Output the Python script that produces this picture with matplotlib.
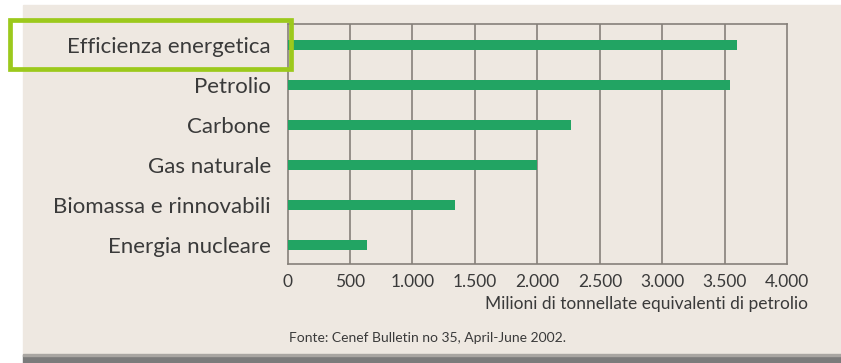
#plot energy sources horizontal bar chart (Mtep), beige panel with highlighted first label

import numpy as np
import matplotlib
matplotlib.use("Agg")
import matplotlib.pyplot as plt
from matplotlib.patches import Rectangle

#=====================Data===============
categories = ["Efficienza energetica", "Petrolio", "Carbone", "Gas naturale",
              "Biomassa e rinnovabili", "Energia nucleare"]
values = [3600, 3540, 2270, 2000, 1340, 640]
xticks = [0, 500, 1000, 1500, 2000, 2500, 3000, 3500, 4000]
xtick_labels = ["0", "500", "1.000", "1.500", "2.000", "2.500", "3.000", "3.500", "4.000"]
xlabel = "Milioni di tonnellate equivalenti di petrolio"
source = "Fonte: Cenef Bulletin no 35, April-June 2002."

#=====================Style===============
W, H = 841, 363
bg = "#eee8e1"
bar_col = "#22a463"
grid_col = "#86807a"
txt_col = "#3a3a3a"
hl_col = "#9cc91c"
plt.rcParams['font.family'] = ['Lato', 'DejaVu Sans']

fig = plt.figure(figsize=(W/100, H/100), dpi=100, facecolor="white")

def px(x0, y0, x1, y1):
    #pixel box (top-left origin) -> figure fraction rect
    return (x0/W, 1-y1/H, (x1-x0)/W, (y1-y0)/H)

#beige panel and grey strip at the bottom (behind the axes)
x, y, w, h = px(23, 5, W, 355)
fig.patches.append(Rectangle((x, y), w, h, transform=fig.transFigure, color=bg, zorder=-5))
x, y, w, h = px(23, 355, W, H)
fig.patches.append(Rectangle((x, y), w, h, transform=fig.transFigure, color="#7b7b7b", zorder=-5))
x, y, w, h = px(23, 354, W, 356)
fig.patches.append(Rectangle((x, y), w, h, transform=fig.transFigure, color="#a9a6a2", zorder=-5))

ax = fig.add_axes(px(287.5, 24, 787.3, 264))
ax.set_facecolor("none")

pos = np.arange(len(categories))
ax.barh(pos, values, height=0.27, color=bar_col, zorder=3)

ax.set_xlim(0, 4000)
ax.set_ylim(5.475, -0.525)
ax.set_xticks(xticks)
ax.set_xticklabels(xtick_labels)
ax.set_yticks(pos)
ax.set_yticklabels(categories)
ax.tick_params(axis='x', length=0, pad=7, labelsize=12.5, labelcolor=txt_col)
ax.tick_params(axis='y', length=0, pad=12, labelsize=16, labelcolor=txt_col)
for s in ax.spines.values():
    s.set_color(grid_col)
    s.set_linewidth(1.2)
for t in xticks[1:-1]:
    ax.axvline(t, color=grid_col, linewidth=1.2, zorder=1)

fig.text(808/W, 1-304/H, xlabel, ha='right', va='center', fontsize=12.5, color=txt_col)
fig.text(289/W, 1-338/H, source, ha='left', va='center', fontsize=10, color=txt_col)

#green highlight frame around the first label
x, y, w, h = px(9.7, 19.7, 291, 69.2)
fig.patches.append(Rectangle((x, y), w, h, transform=fig.transFigure, fill=False,
                             edgecolor=hl_col, linewidth=3.4, zorder=10))

plt.savefig("out.png", dpi=100, facecolor=fig.get_facecolor())
